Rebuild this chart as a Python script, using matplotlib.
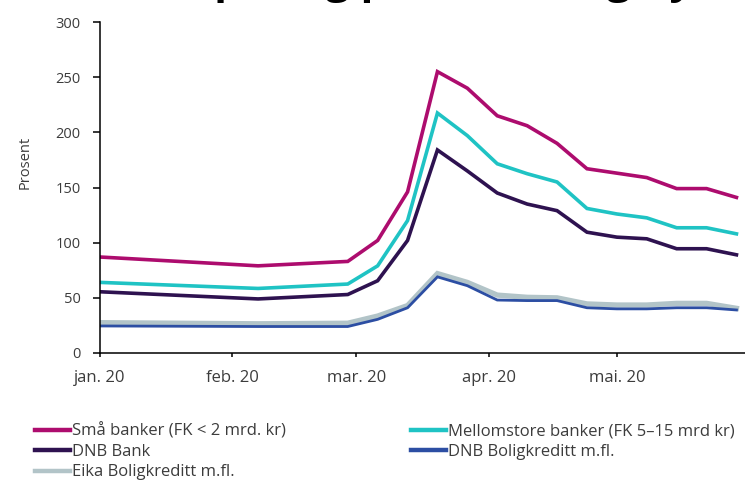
import numpy as np
import pandas as pd
import matplotlib
matplotlib.use('Agg')
import matplotlib.pyplot as plt

plt.rcParams['font.family'] = ['Open Sans', 'DejaVu Sans']

dates = pd.to_datetime(['2020-01-01', '2020-02-07', '2020-02-28', '2020-03-06',
                        '2020-03-13', '2020-03-20', '2020-03-27', '2020-04-03',
                        '2020-04-10', '2020-04-17', '2020-04-24', '2020-05-01',
                        '2020-05-08', '2020-05-15', '2020-05-22', '2020-05-29'])

sma_banker = [87, 79, 83, 102, 146, 255, 240, 215, 206, 190, 167, 163, 159, 149, 149, 141]
mellomstore = [64, 58.5, 62.5, 79, 120, 217.5, 197, 171.5, 162.5, 155, 131, 126, 122.5, 113.5, 113.5, 108]
dnb_bank = [55.5, 49, 53, 65.5, 102, 184, 165, 145, 135, 129, 109.5, 105, 103.5, 94.5, 94.5, 89]
dnb_boligkreditt = [24.5, 24, 24, 30.5, 41, 69, 61, 48, 47.5, 47.5, 41, 40, 40, 41, 41, 39]
eika_boligkreditt = [27.5, 26.5, 27, 33.5, 43, 72, 64, 52.5, 50.5, 50, 44.5, 43.5, 43.5, 45, 45, 40.5]

month_ticks = pd.to_datetime(['2020-01-01', '2020-02-01', '2020-03-01', '2020-04-01', '2020-05-01'])
month_labels = ['jan. 20', 'feb. 20', 'mar. 20', 'apr. 20', 'mai. 20']

fig = plt.figure(figsize=(7.45, 4.82), dpi=100)
ax = fig.add_axes([100/745, 129/482, 645/745, 331/482])

l_eika, = ax.plot(dates, eika_boligkreditt, color='#b2c4c8', lw=3.8, solid_joinstyle='miter')
l_dnbbk, = ax.plot(dates, dnb_boligkreditt, color='#2c4ea3', lw=2.0, solid_joinstyle='miter')
l_dnb, = ax.plot(dates, dnb_bank, color='#2e1250', lw=2.6, solid_joinstyle='miter')
l_mellom, = ax.plot(dates, mellomstore, color='#1fc3c4', lw=2.6, solid_joinstyle='miter')
l_sma, = ax.plot(dates, sma_banker, color='#ad0c6e', lw=2.6, solid_joinstyle='miter')

ax.set_xlim(pd.Timestamp('2020-01-01'), pd.Timestamp('2020-05-31'))
ax.set_ylim(0, 300)
ax.set_yticks(np.arange(0, 301, 50))
ax.set_xticks(month_ticks)
ax.set_xticklabels(month_labels)

for side in ['top', 'right']:
    ax.spines[side].set_visible(False)
for side in ['left', 'bottom']:
    ax.spines[side].set_linewidth(1.1)
    ax.spines[side].set_color('black')

ax.tick_params(axis='y', direction='out', length=5, width=1.1, pad=9,
               labelsize=10.5, labelcolor='#3c3c3c')
ax.tick_params(axis='x', direction='out', length=3, width=1.1, pad=9,
               labelsize=12, labelcolor='#3c3c3c')

fig.text(25/745, 1 - 162/482, 'Prosent', rotation=90, ha='center', va='center',
         fontsize=10.5, color='#3c3c3c')

# Overskrift, bare nedre del er synlig i toppen
fig.text(88/745, 1 + 7/482, 'Risikopåslag på senior- og nye OMF-lån',
         fontsize=30.5, fontweight='bold', color='black', ha='left', va='baseline')

handles = [l_sma, l_dnb, l_eika, l_mellom, l_dnbbk]
labels = ['Små banker (FK < 2 mrd. kr)', 'DNB Bank', 'Eika Boligkreditt m.fl.',
          'Mellomstore banker (FK 5–15 mrd kr)', 'DNB Boligkreditt m.fl.']
leg = fig.legend(handles, labels, ncol=2, loc='upper left',
                 bbox_to_anchor=(35/745, 1 - 423/482), frameon=False,
                 fontsize=12, handlelength=2.1, handletextpad=0.12,
                 labelspacing=0.27, columnspacing=7.5, borderaxespad=0,
                 borderpad=0)
for t in leg.get_texts():
    t.set_color('#3c3c3c')
for h in leg.get_lines():
    h.set_linewidth(3.2)

fig.savefig('out.png', dpi=100)
